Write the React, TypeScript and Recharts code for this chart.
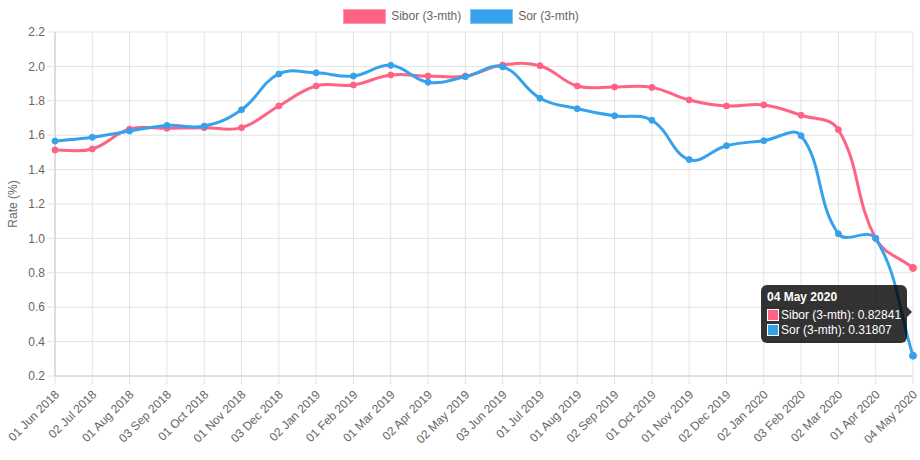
import React from 'react';
import {
  LineChart, Line, XAxis, YAxis, CartesianGrid, Tooltip, Legend,
} from 'recharts';

if (typeof document !== 'undefined') document.body.style.margin = '0';

const dates = [
  '01 Jun 2018', '02 Jul 2018', '01 Aug 2018', '03 Sep 2018', '01 Oct 2018', '01 Nov 2018',
  '03 Dec 2018', '02 Jan 2019', '01 Feb 2019', '01 Mar 2019', '02 Apr 2019', '02 May 2019',
  '03 Jun 2019', '01 Jul 2019', '01 Aug 2019', '02 Sep 2019', '01 Oct 2019', '01 Nov 2019',
  '02 Dec 2019', '02 Jan 2020', '03 Feb 2020', '02 Mar 2020', '01 Apr 2020', '04 May 2020',
];

const sibor = [
  1.514, 1.52, 1.636, 1.64, 1.644, 1.644, 1.77, 1.886, 1.892, 1.95, 1.944, 1.944,
  2.008, 2.004, 1.886, 1.88, 1.878, 1.805, 1.77, 1.776, 1.716, 1.632, 1.0, 0.82841,
];

const sor = [
  1.566, 1.588, 1.624, 1.657, 1.653, 1.748, 1.956, 1.963, 1.944, 2.006, 1.908, 1.94,
  1.997, 1.815, 1.754, 1.713, 1.687, 1.458, 1.539, 1.568, 1.597, 1.027, 1.0, 0.31807,
];

const yTicks = [0.2, 0.4, 0.6, 0.8, 1.0, 1.2, 1.4, 1.6, 1.8, 2.0, 2.2];

const RED = '#ff6384';
const BLUE = '#36a2eb';
const FONT = '"Liberation Sans", Helvetica, Arial, sans-serif';

const data = dates.map((d, i) => ({ date: d, sibor: sibor[i], sor: sor[i] }));

// bezier like chart.js (tension 0.4)
function splineCurve(context: any) {
  let pts: number[][] = [];
  return {
    areaStart() {},
    areaEnd() {},
    lineStart() { pts = []; },
    point(x: number, y: number) { pts.push([+x, +y]); },
    lineEnd() {
      const n = pts.length;
      if (!n) return;
      const t = 0.4;
      const cps = pts.map((p, i) => {
        const prev = pts[Math.max(0, i - 1)];
        const next = pts[Math.min(n - 1, i + 1)];
        const d01 = Math.hypot(p[0] - prev[0], p[1] - prev[1]);
        const d12 = Math.hypot(next[0] - p[0], next[1] - p[1]);
        let s01 = d01 / (d01 + d12);
        let s12 = d12 / (d01 + d12);
        if (isNaN(s01)) s01 = 0;
        if (isNaN(s12)) s12 = 0;
        const fa = t * s01, fb = t * s12;
        return {
          px: p[0] - fa * (next[0] - prev[0]), py: p[1] - fa * (next[1] - prev[1]),
          nx: p[0] + fb * (next[0] - prev[0]), ny: p[1] + fb * (next[1] - prev[1]),
        };
      });
      context.moveTo(pts[0][0], pts[0][1]);
      for (let i = 1; i < n; i++) {
        context.bezierCurveTo(cps[i - 1].nx, cps[i - 1].ny, cps[i].px, cps[i].py, pts[i][0], pts[i][1]);
      }
    },
  };
}

const DateTick = (props: any) => {
  const { x, y, payload } = props;
  return (
    <g transform={`translate(${x},${y})`}>
      <text
        x={0} y={0} dy={10} dx={-3}
        textAnchor="end"
        transform="rotate(-45)"
        fill="#666" fontSize={12} fontFamily={FONT}
      >
        {payload.value}
      </text>
    </g>
  );
};

const TopLegend = () => (
  <div style={{
    display: 'flex', justifyContent: 'center', alignItems: 'center', height: 32, gap: 9,
    fontFamily: FONT, fontSize: 12, color: '#666', paddingLeft: 2,
  }}>
    {[{ n: 'Sibor (3-mth)', c: RED }, { n: 'Sor (3-mth)', c: BLUE }].map((it) => (
      <div key={it.n} style={{ display: 'flex', alignItems: 'center' }}>
        <span style={{
          display: 'inline-block', width: 43, height: 15, background: it.c,
          boxSizing: 'border-box', border: '1.5px solid rgba(255,255,255,0.35)', marginRight: 5,
        }} />
        <span>{it.n}</span>
      </div>
    ))}
  </div>
);

const TipBox = (props: any) => {
  const { label, payload } = props;
  const i = dates.length - 1;
  const title = label ?? dates[i];
  const rows = payload && payload.length
    ? payload.map((p: any) => ({ n: p.name, v: p.value, c: p.color }))
    : [{ n: 'Sibor (3-mth)', v: sibor[i], c: RED }, { n: 'Sor (3-mth)', v: sor[i], c: BLUE }];
  return (
    <div style={{ position: 'relative' }}>
      <div style={{
        background: 'rgba(0,0,0,0.8)', borderRadius: 6, padding: '5px 6px 5px 6px',
        color: '#fff', fontFamily: FONT, fontSize: 12, lineHeight: '14px', whiteSpace: 'nowrap',
      }}>
        <div style={{ fontWeight: 'bold', marginBottom: 4 }}>{title}</div>
        {rows.map((r: any) => (
          <div key={r.n} style={{ display: 'flex', alignItems: 'center', marginBottom: 1 }}>
            <span style={{
              display: 'inline-block', width: 10, height: 10, background: r.c,
              border: '1px solid #fff', marginRight: 2,
            }} />
            <span>{r.n}: {r.v}</span>
          </div>
        ))}
      </div>
      <div style={{
        position: 'absolute', right: -5, top: 22, width: 0, height: 0,
        borderTop: '5px solid transparent', borderBottom: '5px solid transparent',
        borderLeft: '5px solid rgba(0,0,0,0.8)',
      }} />
    </div>
  );
};

export default function App() {
  return (
    <div style={{ width: 920, height: 460, background: '#fff' }}>
      <LineChart
        width={920}
        height={460}
        data={data}
        margin={{ top: 0, right: 7, bottom: 0, left: 5 }}
      >
        <CartesianGrid stroke="#e3e3e3" vertical horizontal />
        <Legend verticalAlign="top" content={<TopLegend />} wrapperStyle={{ top: 0, left: 0, width: 920 }} />
        <XAxis
          dataKey="date"
          interval={0}
          height={84}
          tick={<DateTick />}
          tickSize={8}
          stroke="#d0d0d0"
          tickLine={{ stroke: '#e3e3e3' }}
        />
        <YAxis
          domain={[0.2, 2.2]}
          ticks={yTicks}
          width={50}
          tickSize={8}
          tickMargin={2}
          stroke="#d0d0d0"
          tickLine={{ stroke: '#e3e3e3' }}
          tickFormatter={(v: number) => v.toFixed(1)}
          tick={{ fill: '#666', fontSize: 12, fontFamily: FONT }}
          label={{ value: 'Rate (%)', angle: -90, position: 'insideLeft', offset: 0, dx: 8, fill: '#666', fontSize: 12, fontFamily: FONT, style: { textAnchor: 'middle' } }}
        />
        <Tooltip
          active
          defaultIndex={23}
          cursor={false}
          isAnimationActive={false}
          position={{ x: 761, y: 285 }}
          content={<TipBox />}
          wrapperStyle={{ outline: 'none' }}
        />
        <Line
          name="Sibor (3-mth)"
          dataKey="sibor"
          type={splineCurve as any}
          stroke={RED}
          strokeWidth={3}
          dot={{ r: 3, fill: RED, stroke: RED, strokeWidth: 1 }}
          activeDot={{ r: 3.5, fill: RED, stroke: RED, strokeWidth: 1 }}
          isAnimationActive={false}
        />
        <Line
          name="Sor (3-mth)"
          dataKey="sor"
          type={splineCurve as any}
          stroke={BLUE}
          strokeWidth={3}
          dot={{ r: 3, fill: BLUE, stroke: BLUE, strokeWidth: 1 }}
          activeDot={{ r: 3.5, fill: BLUE, stroke: BLUE, strokeWidth: 1 }}
          isAnimationActive={false}
        />
      </LineChart>
    </div>
  );
}
